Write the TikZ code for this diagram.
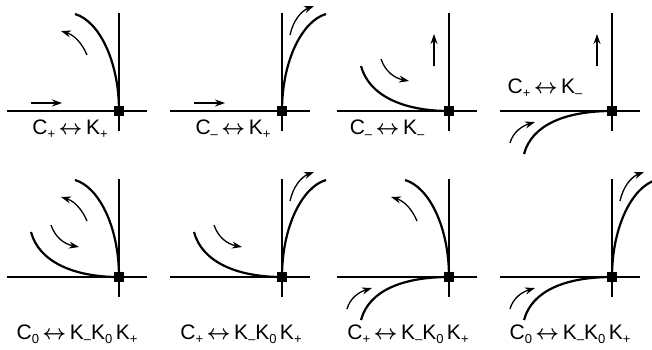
\documentclass[tikz,border=0pt]{standalone}
\usepackage{fontspec}
\setmainfont{Liberation Sans}
\usetikzlibrary{arrows.meta}
\newcommand{\lo}[1]{\raisebox{-0.22em}{\fontsize{13}{13}\selectfont #1}}
\newcommand{\lr}{\,{\boldmath$\leftrightarrow$}\,}
\tikzset{
  ax/.style  = {line width=1.6pt},
  fp/.style  = {fill, rectangle, minimum size=9.5pt, inner sep=0pt},
  trj/.style = {line width=2.2pt},
  ar/.style  = {line width=1.3pt, -{Stealth[length=10pt, width=7pt]}},
  lbl/.style = {font=\fontsize{21}{24}\selectfont, inner sep=0pt, anchor=base},
  % trajectories leaving the fixed point
  ulc/.style = {to path={.. controls +(0,-50) and +(24,7) .. (\tikztotarget)}},
  urc/.style = {to path={.. controls +(0,-50) and +(-24,7) .. (\tikztotarget)}},
  llc/.style = {to path={.. controls +(-45,0) and +(8,30) .. (\tikztotarget)}},
  ldc/.style = {to path={.. controls +(-45,0) and +(8,-30) .. (\tikztotarget)}},
  % flow arrows beside them
  ulb/.style = {to path={.. controls +(-5,-12) and +(13,4) .. (\tikztotarget)}},
  urb/.style = {to path={.. controls +(3,-14) and +(-13,5) .. (\tikztotarget)}},
  llb/.style = {to path={.. controls +(4,12) and +(-15,-3) .. (\tikztotarget)}},
  ldb/.style = {to path={.. controls +(3,-11) and +(-13,4) .. (\tikztotarget)}},
}

\begin{document}
\begin{tikzpicture}[x=1pt, y=-1pt]
  \useasboundingbox (0,0) rectangle (652,349);

  % axes, fixed points and the spots used below
  \foreach \n/\x/\y in {1/119/111, 2/282/111, 3/449/111, 4/612/111,
                        5/119/277, 6/282/277, 7/449/277, 8/612/277} {
    \draw[ax] (\x-112,\y) -- (\x+28,\y);
    \draw[ax] (\x,\y-98) -- (\x,\y+20);
    \node[fp] (o\n) at (\x,\y) {};
    \foreach \k/\dx/\dy in {cUL/-44/-97, cUR/44/-97, cLL/-88/-45, cLD/-88/43,
        sUL/-32/-56, eUL/-58/-80, sUR/8/-76, eUR/32/-105,
        sLL/-68/-52, eLL/-40/-30, sLD/-102/32, eLD/-77/11,
        sH/-88/-8, eH/-57/-8, sV/-15/-45, eV/-15/-77}
      \coordinate (\k\n) at (\x+\dx,\y+\dy);
  }

  % top row
  \draw[trj] (o1.center) to[ulc] (cUL1);
  \draw[ar] (sUL1) to[ulb] (eUL1);
  \draw[ar] (sH1) -- (eH1);
  \node[lbl] (t1) at (70,134) {C\lo{+}\lr K\lo{+}};

  \draw[trj] (o2.center) to[urc] (cUR2);
  \draw[ar] (sUR2) to[urb] (eUR2);
  \draw[ar] (sH2) -- (eH2);
  \node[lbl] (t2) at (233,134) {C\lo{–}\lr K\lo{+}};

  \draw[trj] (o3.center) to[llc] (cLL3);
  \draw[ar] (sLL3) to[llb] (eLL3);
  \draw[ar] (sV3) -- (eV3);
  \node[lbl] (t3) at (387,134) {C\lo{–}\lr K\lo{–}};

  \draw[trj] (o4.center) to[ldc] (cLD4);
  \draw[ar] (sLD4) to[ldb] (eLD4);
  \draw[ar] (sV4) -- (eV4);
  \node[lbl] (t4) at (545,93) {C\lo{+}\lr K\lo{–}};

  % bottom row
  \draw[trj] (o5.center) to[ulc] (cUL5);
  \draw[trj] (o5.center) to[llc] (cLL5);
  \draw[ar] (sUL5) to[ulb] (eUL5);
  \draw[ar] (sLL5) to[llb] (eLL5);
  \node[lbl] (t5) at (77,339) {C\lo{0}\lr K\lo{–}K\lo{0}\,K\lo{+}};

  \draw[trj] (o6.center) to[urc] (cUR6);
  \draw[trj] (o6.center) to[llc] (cLL6);
  \draw[ar] (sUR6) to[urb] (eUR6);
  \draw[ar] (sLL6) to[llb] (eLL6);
  \node[lbl] (t6) at (241,339) {C\lo{+}\lr K\lo{–}K\lo{0}\,K\lo{+}};

  \draw[trj] (o7.center) to[ulc] (cUL7);
  \draw[trj] (o7.center) to[ldc] (cLD7);
  \draw[ar] (sUL7) to[ulb] (eUL7);
  \draw[ar] (sLD7) to[ldb] (eLD7);
  \node[lbl] (t7) at (408,339) {C\lo{+}\lr K\lo{–}K\lo{0}\,K\lo{+}};

  \draw[trj] (o8.center) to[urc] (cUR8);
  \draw[trj] (o8.center) to[ldc] (cLD8);
  \draw[ar] (sUR8) to[urb] (eUR8);
  \draw[ar] (sLD8) to[ldb] (eLD8);
  \node[lbl] (t8) at (570,339) {C\lo{0}\lr K\lo{–}K\lo{0}\,K\lo{+}};
\end{tikzpicture}
\end{document}
